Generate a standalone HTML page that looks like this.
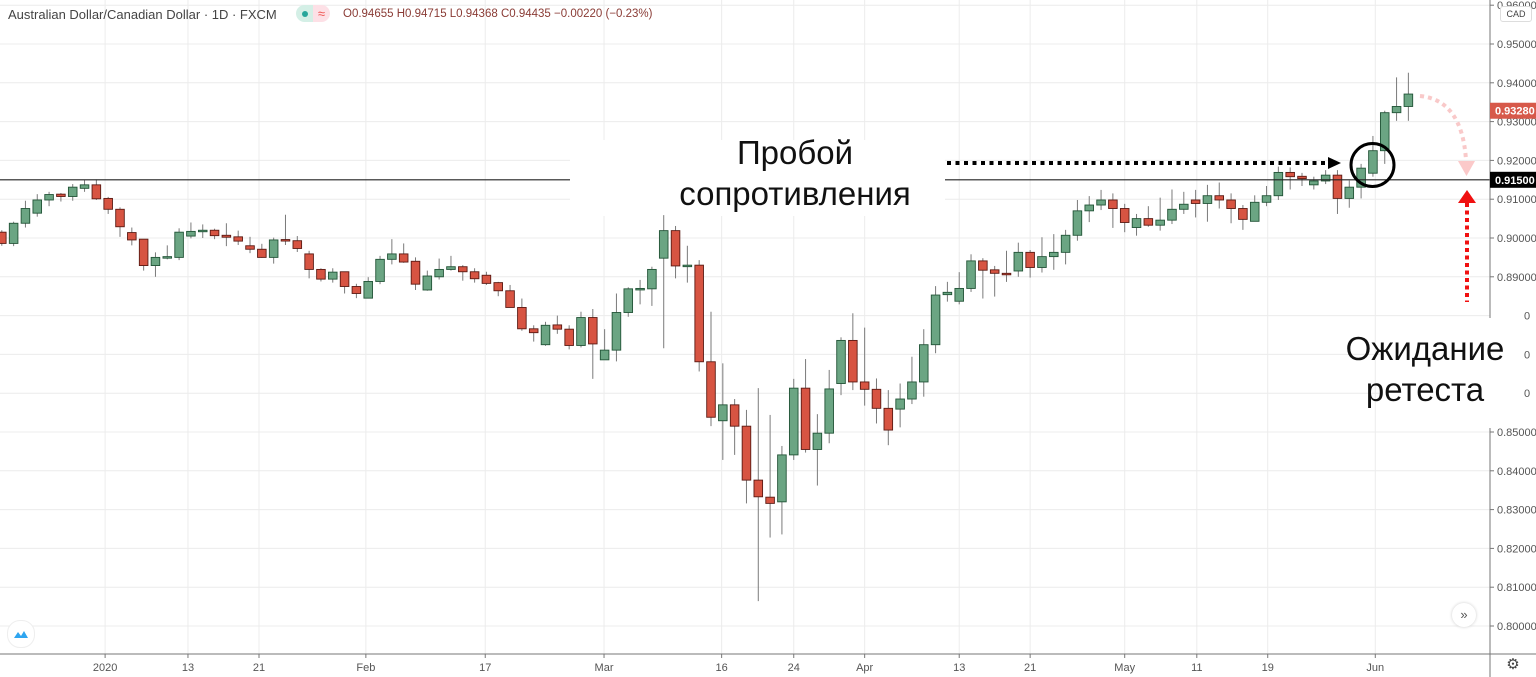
<!DOCTYPE html>
<html><head><meta charset="utf-8"><style>
html,body{margin:0;padding:0;background:#fff;}
svg{display:block;font-family:"Liberation Sans","DejaVu Sans",sans-serif;}
</style></head><body>
<svg id="chart" width="1536" height="677" viewBox="0 0 1536 677" xmlns="http://www.w3.org/2000/svg">
<rect x="0" y="0" width="1536" height="677" fill="#fff"/>
<g id="grid"></g>
<g id="candles"></g>
<g id="overlay"></g>
<g id="axes"></g>
</svg>
<script>
const opens  = [0.9015,0.8986,0.9038,0.9064,0.9098,0.9113,0.9107,0.9128,0.9137,0.9102,0.9074,0.9014,0.8997,0.8929,0.8948,0.8950,0.9005,0.9017,0.9020,0.9007,0.9003,0.8980,0.8971,0.8950,0.8996,0.8993,0.8959,0.8919,0.8894,0.8913,0.8875,0.8845,0.8888,0.8945,0.8959,0.8940,0.8866,0.8900,0.8919,0.8926,0.8913,0.8904,0.8885,0.8864,0.8821,0.8766,0.8725,0.8776,0.8765,0.8723,0.8795,0.8686,0.8711,0.8808,0.8868,0.8869,0.8948,0.9019,0.8928,0.8930,0.8681,0.8529,0.8570,0.8515,0.8376,0.8332,0.8320,0.8441,0.8613,0.8455,0.8497,0.8625,0.8736,0.8629,0.8610,0.8561,0.8559,0.8585,0.8629,0.8725,0.8854,0.8837,0.8870,0.8941,0.8918,0.8909,0.8915,0.8963,0.8924,0.8952,0.8963,0.9007,0.9070,0.9085,0.9098,0.9076,0.9027,0.9050,0.9033,0.9046,0.9074,0.9098,0.9089,0.9109,0.9098,0.9076,0.9043,0.9092,0.9109,0.9169,0.9159,0.9137,0.9147,0.9162,0.9102,0.9131,0.9167,0.9225,0.9323,0.9339];
const highs  = [0.9020,0.9042,0.9096,0.9113,0.9119,0.9116,0.9139,0.9149,0.9151,0.9106,0.9079,0.9027,0.8997,0.8963,0.8981,0.9025,0.9040,0.9035,0.9024,0.9038,0.9019,0.9003,0.8985,0.9001,0.9060,0.9005,0.8967,0.8922,0.8922,0.8913,0.8882,0.8899,0.8954,0.8997,0.8986,0.8950,0.8916,0.8947,0.8954,0.8930,0.8922,0.8913,0.8887,0.8879,0.8844,0.8775,0.8784,0.8800,0.8775,0.8810,0.8817,0.8765,0.8857,0.8873,0.8892,0.8926,0.9059,0.9031,0.8980,0.8943,0.8810,0.8677,0.8585,0.8557,0.8613,0.8544,0.8464,0.8637,0.8688,0.8546,0.8660,0.8744,0.8806,0.8769,0.8638,0.8608,0.8625,0.8694,0.8765,0.8876,0.8887,0.8912,0.8958,0.8948,0.8928,0.8967,0.8988,0.8969,0.9002,0.9010,0.9021,0.9098,0.9108,0.9124,0.9115,0.9088,0.9062,0.9082,0.9104,0.9125,0.9119,0.9124,0.9137,0.9143,0.9115,0.9085,0.9110,0.9134,0.9184,0.9182,0.9168,0.9158,0.9175,0.9175,0.9148,0.9191,0.9263,0.9328,0.9414,0.9426];
const lows   = [0.8980,0.8979,0.9027,0.9055,0.9082,0.9094,0.9096,0.9119,0.9098,0.9062,0.9003,0.8981,0.8916,0.8900,0.8945,0.8943,0.8999,0.9000,0.8997,0.8979,0.8982,0.8961,0.8949,0.8934,0.8982,0.8964,0.8896,0.8888,0.8885,0.8857,0.8845,0.8845,0.8881,0.8932,0.8936,0.8866,0.8864,0.8893,0.8916,0.8890,0.8885,0.8879,0.8850,0.8821,0.8761,0.8733,0.8722,0.8753,0.8713,0.8718,0.8637,0.8686,0.8682,0.8797,0.8829,0.8825,0.8716,0.8896,0.8885,0.8656,0.8515,0.8428,0.8441,0.8316,0.8064,0.8228,0.8236,0.8428,0.8447,0.8362,0.8471,0.8595,0.8608,0.8568,0.8522,0.8466,0.8512,0.8572,0.8591,0.8703,0.8836,0.8829,0.8861,0.8844,0.8849,0.8887,0.8900,0.8898,0.8911,0.8918,0.8932,0.8993,0.9041,0.9072,0.9026,0.9015,0.9006,0.9029,0.9019,0.9036,0.9062,0.9053,0.9042,0.9076,0.9038,0.9021,0.9043,0.9082,0.9098,0.9125,0.9134,0.9125,0.9139,0.9062,0.9078,0.9102,0.9158,0.9191,0.9302,0.9302];
const closes = [0.8986,0.9038,0.9076,0.9098,0.9112,0.9107,0.9131,0.9137,0.9101,0.9074,0.9029,0.8995,0.8929,0.8950,0.8952,0.9015,0.9017,0.9020,0.9006,0.9002,0.8992,0.8971,0.8950,0.8995,0.8993,0.8973,0.8919,0.8894,0.8912,0.8875,0.8857,0.8888,0.8945,0.8959,0.8938,0.8881,0.8902,0.8919,0.8926,0.8913,0.8895,0.8883,0.8864,0.8821,0.8766,0.8756,0.8775,0.8765,0.8723,0.8795,0.8727,0.8711,0.8808,0.8869,0.8870,0.8919,0.9019,0.8928,0.8930,0.8681,0.8538,0.8570,0.8515,0.8376,0.8333,0.8316,0.8441,0.8613,0.8455,0.8497,0.8611,0.8736,0.8629,0.8610,0.8561,0.8505,0.8585,0.8629,0.8725,0.8853,0.8860,0.8870,0.8941,0.8917,0.8909,0.8906,0.8963,0.8924,0.8952,0.8963,0.9007,0.9070,0.9085,0.9098,0.9076,0.9040,0.9050,0.9033,0.9046,0.9074,0.9087,0.9089,0.9109,0.9098,0.9076,0.9048,0.9092,0.9109,0.9169,0.9158,0.9153,0.9147,0.9162,0.9102,0.9131,0.9180,0.9225,0.9323,0.9339,0.9371];
const priceTicks = [0.96,0.95,0.94,0.93,0.92,0.91,0.90,0.89,0.88,0.87,0.86,0.85,0.84,0.83,0.82,0.81,0.80];
const dateLabels = ["2020","13","21","Feb","17","Mar","16","24","Apr","13","21","May","11","19","Jun"];
const dateTickIdx = [8.74,15.75,21.76,30.8,40.9,50.95,60.9,67,73,81,87,95,101.1,107.1,116.2];
const resistance = 0.915;
const lastPrice = 0.9328;

const NS = "http://www.w3.org/2000/svg";
function y(p){ return 432 - (p - 0.85) * 3880; }
function x(i){ return 1.8 + i * 11.82; }
function mk(parent, tag, attrs){ const e=document.createElementNS(NS,tag); for(const k in attrs) e.setAttribute(k,attrs[k]); parent.appendChild(e); return e; }

const grid=document.getElementById('grid'), cg=document.getElementById('candles'), ov=document.getElementById('overlay'), ax=document.getElementById('axes');

priceTicks.forEach(p=>{
  const l=mk(grid,'line',{x1:0,x2:1490,y1:y(p),y2:y(p),stroke:'#ececec','stroke-width':1});
  
  
});
dateTickIdx.forEach(i=>{
  const l=mk(grid,'line',{x1:x(i),x2:x(i),y1:0,y2:654,stroke:'#ececec','stroke-width':1});
  
  
});

// white text boxes (hide grid)
const b1=mk(grid,'rect',{x:570,y:140,width:375,height:76,fill:'#fff'});


const b2=mk(grid,'rect',{x:1380,y:318,width:116,height:110,fill:'#fff'});



// resistance line
[[0,570],[945,1490]].forEach(s=>{
  const l=mk(ov,'line',{x1:s[0],x2:s[1],y1:y(resistance),y2:y(resistance),stroke:'#222','stroke-width':1.2});
  
  
});

opens.forEach((o,i)=>{
  const c=closes[i], up=c>=o, cx=x(i);
  const g=mk(cg,'g',{});
  
  
  mk(g,'line',{x1:cx,x2:cx,y1:y(highs[i]),y2:y(lows[i]),stroke:'#7a7a7a','stroke-width':1});
  const top=y(Math.max(o,c)), h=Math.max(1.5,Math.abs(y(o)-y(c)));
  mk(g,'rect',{x:cx-4.3,y:top,width:8.6,height:h,fill:up?'#6ba583':'#d75442',stroke:up?'#225437':'#5b1a13','stroke-width':0.9});
});

// breakout dotted arrow
const ry=163;
for(let xx=947; xx<1324; xx+=8.5){
  const d=mk(ov,'rect',{x:xx,y:ry-2,width:4,height:4,fill:'#000'});
  
  
}
const ah=mk(ov,'polygon',{points:'1328,157 1341,163 1328,169',fill:'#000'});


const circ=mk(ov,'ellipse',{cx:1372.5,cy:165,rx:21.5,ry:21.5,fill:'none',stroke:'#000','stroke-width':3});


// pink arc
const arc=mk(ov,'path',{d:'M1420,96 Q1462,100 1466,160',fill:'none',stroke:'#f9c9c9','stroke-width':4,'stroke-dasharray':'4 4'});


const pah=mk(ov,'polygon',{points:'1458,161 1475,161 1466.5,176',fill:'#fbc9c9'});


// red up arrow
const ra=mk(ov,'line',{x1:1467,x2:1467,y1:203,y2:302,stroke:'#f01010','stroke-width':4,'stroke-dasharray':'4 3.5'});


const rah=mk(ov,'polygon',{points:'1458,203 1476,203 1467,190',fill:'#f01010'});



// axes
const axl=mk(ax,'line',{x1:0,x2:1490,y1:654,y2:654,stroke:'#777','stroke-width':1});


[[0,318],[428,677]].forEach(s=>{
  const l=mk(ax,'line',{x1:1490,x2:1490,y1:s[0],y2:s[1],stroke:'#777','stroke-width':1});
  
  
});
const bl=mk(ax,'line',{x1:1490,x2:1536,y1:654,y2:654,stroke:'#777','stroke-width':1});


dateLabels.forEach((t,k)=>{
  const xx=x(dateTickIdx[k]);
  const tk=mk(ax,'line',{x1:xx,x2:xx,y1:654,y2:658,stroke:'#777'});
  
  
  const tx=mk(ax,'text',{x:xx,y:671,'text-anchor':'middle','font-size':11,fill:'#555'});
  tx.textContent=t;
  
  
});
priceTicks.forEach(p=>{
  const yy=y(p);
  const hidden = yy>310 && yy<428;
  if(!hidden){
    const tk=mk(ax,'line',{x1:1490,x2:1494,y1:yy,y2:yy,stroke:'#777'});
    
    
  }
  const tx=mk(ax,'text',{x:hidden?1524:1497,y:yy+4,'font-size':11,fill:'#555'});
  tx.textContent=hidden?'0':p.toFixed(5);
  
  
});
// price badges
function badge(p,bg,name){
  const g=mk(ax,'g',{});
  
  
  mk(g,'rect',{x:1490,y:y(p)-8,width:46,height:16,fill:bg});
  const t=mk(g,'text',{x:1495,y:y(p)+4,'font-size':11,'font-weight':'bold',fill:'#fff'});
  t.textContent=p.toFixed(5);
}
badge(lastPrice,'#d7594a','last-price-label');
badge(resistance,'#000','resistance-price-label');
</script>
<div style="position:absolute;left:0;top:0;width:1536px;height:677px;pointer-events:none;font-family:'Liberation Sans','DejaVu Sans',sans-serif;">
  <div style="position:absolute;left:8px;top:7px;font-size:13px;color:#444;white-space:nowrap;">Australian Dollar/Canadian Dollar · 1D · FXCM</div>
  <div style="position:absolute;left:296px;top:5px;width:34px;height:17px;border-radius:9px;overflow:hidden;">
    <div style="position:absolute;left:0;top:0;width:17px;height:17px;background:#d4efe6;"></div>
    <div style="position:absolute;left:6px;top:6px;width:6px;height:6px;border-radius:3px;background:#26a69a;"></div>
    <div style="position:absolute;left:17px;top:0;width:17px;height:17px;background:#fde0e6;color:#ef5350;font-size:13px;line-height:17px;text-align:center;">≈</div>
  </div>
  <div style="position:absolute;left:343px;top:8px;font-size:11.5px;color:#8a3b35;white-space:nowrap;">O0.94655 H0.94715 L0.94368 C0.94435 −0.00220 (−0.23%)</div>
  <div style="position:absolute;left:1500px;top:6px;width:30px;height:14px;border:1px solid #ddd;border-radius:3px;background:#fff;font-size:9px;color:#444;text-align:center;line-height:14px;">CAD</div>
  <div style="position:absolute;left:640px;top:132px;width:310px;text-align:center;font-size:33px;line-height:41px;color:#111;">Пробой<br>сопротивления</div>
  <div style="position:absolute;left:1330px;top:328px;width:190px;text-align:center;font-size:33px;line-height:41px;color:#111;">Ожидание<br>ретеста</div>
  <div style="position:absolute;left:1452px;top:603px;width:24px;height:24px;border-radius:12px;background:#fff;box-shadow:0 0 3px #ccc;font-size:13px;line-height:23px;text-align:center;color:#555;">»</div>
  <div style="position:absolute;left:7px;top:620px;width:26px;height:26px;border-radius:13px;background:#fff;border:1px solid #eee;">
    <svg width="26" height="26"><path d="M6 17 L10 11 L13 15 L16 10 L20 17 Z" fill="#2ea5f0"/></svg>
  </div>
  <div style="position:absolute;left:1505px;top:657px;width:16px;height:16px;font-size:15px;line-height:16px;text-align:center;color:#444;">⚙</div>
</div>
</body></html>
